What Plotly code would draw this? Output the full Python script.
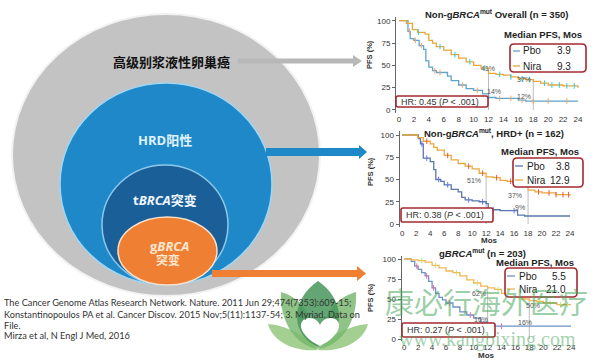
import plotly.graph_objects as go

W, H = 594, 360
def X(p): return p / W
def Y(p): return 1 - p / H

# ---------------- data ----------------
titles = ["Non-g<i>BRCA</i><sup>mut</sup> Overall (n = 350)",
          "Non-g<i>BRCA</i><sup>mut</sup>, HRD+ (n = 162)",
          "g<i>BRCA</i><sup>mut</sup> (n = 203)"]
median_pbo = ["3.9", "3.8", "5.5"]
median_nira = ["9.3", "12.9", "21.0"]
hr_text = ["HR: 0.45 (<i>P</i> < .001)", "HR: 0.38 (<i>P</i> < .001)", "HR: 0.27 (<i>P</i> < .001)"]
x_ticks = list(range(0, 25, 2))
y_ticks = [0, 25, 50, 75, 100]

nira1_t = [0, 1, 1.8, 2.5, 3.5, 4, 4.5, 5, 6, 7, 8, 9, 10, 11, 12, 13, 14, 15, 16, 17, 18, 19, 20, 22, 24]
nira1_s = [100, 97, 90, 87, 85, 78, 75, 71, 67, 62, 58, 54, 50, 47, 41, 40, 39, 37, 35, 34, 32, 30, 28, 27, 25]
pbo1_t = [0, 1.2, 1.5, 2, 2.7, 3.3, 3.6, 4, 4.5, 5, 6.5, 7, 8, 9, 10, 11.2, 12, 13, 16, 17, 24]
pbo1_s = [100, 88, 80, 78, 72, 68, 55, 48, 44, 42, 38, 33, 28, 24, 22, 18, 14, 13, 11, 10, 10]

nira2_t = [0, 2.2, 3, 4, 4.5, 5, 6, 7, 8, 9, 10, 11, 12, 13, 14, 15, 16, 17, 18, 19, 20, 22, 24]
nira2_s = [100, 97, 93, 90, 86, 83, 77, 72, 68, 65, 62, 57, 53, 52, 49, 48, 47, 44, 38, 36, 35, 33, 32]
pbo2_t = [0, 2.3, 2.6, 3, 4, 4.5, 4.8, 5.5, 6, 7, 8, 8.5, 9, 10, 11, 12, 12.3, 14, 16.5, 17.5, 24]
pbo2_s = [100, 96, 90, 74, 70, 61, 50, 48, 44, 39, 36, 30, 27, 26, 25, 23, 16, 15, 10, 9, 9]

nira3_t = [0, 1, 2, 3, 4, 5, 6, 7, 8, 9, 10, 11, 12, 13, 14, 15, 16, 17, 18, 19, 20, 22, 24]
nira3_s = [100, 99, 98, 96, 92, 89, 85, 83, 79, 74, 70, 66, 64, 62, 57, 55, 53, 50, 48, 47, 45, 43, 43]
pbo3_t = [0, 1, 1.5, 2, 2.5, 3, 3.5, 4, 4.5, 5, 5.5, 6, 7, 8, 9, 10, 11, 12, 13, 24]
pbo3_s = [100, 97, 91, 87, 83, 79, 72, 64, 57, 52, 49, 45, 40, 34, 30, 26, 21, 18, 16, 16]

censor_nira = [[2.6, 5.5, 7.5, 9.5, 11.5, 13.5, 15, 16.5, 17.5, 19.5, 20.5, 21.5, 22.5, 23.5],
               [3.5, 6.5, 9.5, 11.5, 13.5, 15.5, 16.5, 19.5, 21, 22, 23, 23.8],
               [2.5, 4.5, 7.5, 10.5, 13.5, 16.5, 19.5, 21, 22.5, 23.5]]
censor_pbo = [[1.4, 2.2, 3, 4.8, 5.5, 8.5, 10.5, 13.5, 15, 16.5, 18, 20, 22.5],
              [2.8, 3.5, 5.2, 6.5, 9.5, 11.5, 13, 16],
              [1.8, 3.2, 4.2, 6.5, 9.5, 12.5, 14]]

pct_labels = [[("41%", 11.9, 47), ("14%", 12.8, 21), ("37%", 16.8, 34), ("12%", 16.8, 15)],
              [("51%", 10.2, 49), ("37%", 16.2, 32), ("9%", 16.8, 18)],
              [("62%", 10.8, 57), ("16%", 11.0, 25), ("50%", 18.6, 42), ("16%", 17.4, 21)]]

curves = [(nira1_t, nira1_s, pbo1_t, pbo1_s),
          (nira2_t, nira2_s, pbo2_t, pbo2_s),
          (nira3_t, nira3_s, pbo3_t, pbo3_s)]

refs = ["The Cancer Genome Atlas Research Network. Nature. 2011 Jun 29;474(7353):609-15;",
        "Konstantinopoulos PA et al. Cancer Discov. 2015 Nov;5(11):1137-54; 3. Myriad. Data on",
        "File.",
        "Mirza et al, N Engl J Med, 2016"]

# ---------------- styles / geometry ----------------
NIRA = ["#e8a63c", "#e9a83e", "#f0b552"]
PBO = ["#5ea5c9", "#5a78aa", "#6f90c4"]
BOXRED = "#a52a30"
FONT = "Liberation Sans"
CJK = "Open Sans, Noto Sans CJK SC"

geom = [(399, 578, 20.7, 110), (402.3, 570, 135, 224), (404.3, 571, 259, 339)]
XR, YR = (-0.4, 24.4), (-3, 104)

def val_at(t, s, x):
    v = s[0]
    for ti, si in zip(t, s):
        if ti <= x:
            v = si
    return v

fig = go.Figure()
layout = dict(width=W, height=H, margin=dict(l=0, r=0, t=0, b=0, pad=0, autoexpand=False),
              paper_bgcolor="white", plot_bgcolor="rgba(0,0,0,0)", showlegend=False)
shapes, annots = [], []

def note(text, px, py, size, color="#222", family=FONT, xanchor="center", angle=0):
    annots.append(dict(text=text, x=X(px), y=Y(py), xref="paper", yref="paper", showarrow=False,
                       xanchor=xanchor, yanchor="middle", textangle=angle,
                       font=dict(size=size, family=family, color=color)))

def curve_path(spec):
    out = ""
    for seg in spec:
        cmd = seg[0]
        nums = seg[1:]
        pts = [f"{X(nums[i]):.5f},{Y(nums[i+1]):.5f}" for i in range(0, len(nums), 2)]
        out += cmd + " " + " ".join(pts) + " "
    return out + "Z"

def rr(x0, y0, x1, y1, r):
    p = [("M", x0 + r, y0), ("L", x1 - r, y0), ("Q", x1, y0, x1, y0 + r), ("L", x1, y1 - r),
         ("Q", x1, y1, x1 - r, y1), ("L", x0 + r, y1), ("Q", x0, y1, x0, y1 - r),
         ("L", x0, y0 + r), ("Q", x0, y0, x0 + r, y0)]
    return curve_path(p)

def poly(pts):
    return "M " + " L ".join(f"{X(a):.5f},{Y(b):.5f}" for a, b in pts) + " Z"

for i, (x0, x24, y100, y0) in enumerate(geom):
    kx = (x24 - x0) / 24
    ky = (y0 - y100) / 100
    dx = [X(x0 + XR[0] * kx), X(x0 + XR[1] * kx)]
    dy = [Y(y0 - YR[0] * ky), Y(y0 - YR[1] * ky)]
    sfx = "" if i == 0 else str(i + 1)
    layout["xaxis" + sfx] = dict(domain=dx, range=list(XR), tickvals=x_ticks, showgrid=False,
                                 zeroline=False, showline=False, ticks="", automargin=False,
                                 tickfont=dict(size=8, family=FONT, color="#333"),
                                 anchor="y" + sfx, fixedrange=True)
    layout["yaxis" + sfx] = dict(domain=dy, range=list(YR), tickvals=y_ticks, showgrid=False,
                                 zeroline=False, showline=True, linecolor="#666", linewidth=1,
                                 ticks="outside", ticklen=3, tickcolor="#666", automargin=False,
                                 tickfont=dict(size=8, family=FONT, color="#333"),
                                 anchor="x" + sfx, fixedrange=True)
    xa, ya = "x" + sfx, "y" + sfx
    nt, ns, pt, ps = curves[i]
    for m in (12, 18):
        fig.add_trace(go.Scatter(x=[m, m], y=[0, val_at(nt, ns, m)], mode="lines",
                                 line=dict(color="#aaaaaa", width=0.8), xaxis=xa, yaxis=ya,
                                 hoverinfo="skip"))
    fig.add_trace(go.Scatter(x=pt, y=ps, mode="lines", line=dict(shape="hv", color=PBO[i], width=1.3),
                             xaxis=xa, yaxis=ya))
    fig.add_trace(go.Scatter(x=nt, y=ns, mode="lines", line=dict(shape="hv", color=NIRA[i], width=1.3),
                             xaxis=xa, yaxis=ya))
    fig.add_trace(go.Scatter(x=censor_pbo[i], y=[val_at(pt, ps, c) for c in censor_pbo[i]], mode="markers",
                             marker=dict(symbol="line-ns-open", size=4, line=dict(color=PBO[i], width=1)),
                             xaxis=xa, yaxis=ya))
    fig.add_trace(go.Scatter(x=censor_nira[i], y=[val_at(nt, ns, c) for c in censor_nira[i]], mode="markers",
                             marker=dict(symbol="line-ns-open", size=4, line=dict(color=NIRA[i], width=1)),
                             xaxis=xa, yaxis=ya))
    for txt, lx, ly in pct_labels[i]:
        annots.append(dict(text=txt, x=lx, y=ly, xref=xa, yref=ya, showarrow=False,
                           xanchor="center", yanchor="middle",
                           font=dict(size=7, family=FONT, color="#555")))

for (tx, ty), t in zip([(496, 14), (494, 133), (482, 253)], titles):
    note("<b>" + t + "</b>", tx, ty, 9.5)
for (lx, ly) in [(369, 55), (370, 172), (370, 298)]:
    note("<b>PFS (%)</b>", lx, ly, 7.5, color="#333", angle=-90)
for (lx, ly) in [(489, 240), (486, 355)]:
    note("<b>Mos</b>", lx, ly, 8, color="#333")

legend_geo = [
    ((543, 34), (510, 44, 586, 72), 51, 66, 513, 520, 521, 573),
    ((540, 151), (513, 158, 583, 187), 166, 180, 515, 523, 525, 572),
    ((535, 262), (505, 268, 577, 297), 276, 289, 507, 515, 517, 568),
]
for i, ((hx, hy), (bx0, by0, bx1, by1), py_, ny_, lx0, lx1, tx, vr) in enumerate(legend_geo):
    note("<b>Median PFS, Mos</b>", hx, hy, 9.5)
    shapes.append(dict(type="path", path=rr(bx0, by0, bx1, by1, 4), xref="paper", yref="paper",
                       line=dict(color=BOXRED, width=1.6), fillcolor="white", layer="above"))
    for yy, col, name, val in [(py_, PBO[i], "Pbo", median_pbo[i]), (ny_, NIRA[i], "Nira", median_nira[i])]:
        shapes.append(dict(type="line", x0=X(lx0), x1=X(lx1), y0=Y(yy), y1=Y(yy), xref="paper", yref="paper",
                           line=dict(color=col, width=1.3), layer="above"))
        note(name, tx, yy, 10, xanchor="left")
        note(val, vr, yy, 10, xanchor="right")

hr_geo = [(396, 96, 488, 107), (401, 208, 493, 222), (402, 323, 495, 337)]
for (x0, y0, x1, y1), t in zip(hr_geo, hr_text):
    shapes.append(dict(type="path", path=rr(x0, y0, x1, y1, 2), xref="paper", yref="paper",
                       line=dict(color=BOXRED, width=1.6), fillcolor="white", layer="above"))
    note(t, x0 + 3, (y0 + y1) / 2, 9, color="#333", xanchor="left")

# ---------------- nested ellipses diagram ----------------
def ell(cx, cy, rx, ry, fill, line, lw):
    return dict(type="circle", xref="paper", yref="paper", x0=X(cx - rx), x1=X(cx + rx),
                y0=Y(cy + ry), y1=Y(cy - ry), fillcolor=fill, line=dict(color=line, width=lw), layer="below")

shapes.append(ell(166, 155, 154, 141, "#c3c3c3", "#f2f2f2", 2))
shapes.append(ell(166, 184, 106, 101, "#1f88c9", "#9fd6f2", 1.5))
shapes.append(ell(165, 225, 63, 60, "#1b5f98", "#8cc8ea", 1.5))
shapes.append(ell(167.5, 251, 49.5, 34, "#ee7f33", "#fbe0c8", 1.5))

shapes.append(dict(type="path", xref="paper", yref="paper", layer="above", line=dict(width=0),
                   fillcolor="#b8b8b8",
                   path=poly([(238, 58.5), (353, 58.5), (353, 55), (362, 61), (353, 67), (353, 63.5), (238, 63.5)])))
shapes.append(dict(type="path", xref="paper", yref="paper", layer="above", line=dict(width=0),
                   fillcolor="#1f88c9",
                   path=poly([(266, 148), (359, 148), (359, 145), (367, 152), (359, 159), (359, 156), (266, 156)])))
shapes.append(dict(type="path", xref="paper", yref="paper", layer="above", line=dict(width=0),
                   fillcolor="#ee7f33",
                   path=poly([(212, 270), (357, 270), (357, 266), (366, 273.5), (357, 281), (357, 277), (212, 277)])))

note("<b>高级别浆液性卵巢癌</b>", 171, 62, 13, color="#111", family=CJK)
note("<b>HRD阳性</b>", 165, 140, 13, color="#dff2ff", family=CJK)
note("<b>t<i>BRCA</i>突变</b>", 165, 200, 13, color="#eef6ff", family=CJK)
note("<b>g<i>BRCA</i></b>", 169, 246, 13, color="#fde6cf", family=CJK)
note("<b>突变</b>", 168, 260, 12, color="#fde6cf", family=CJK)

for line, yy in zip(refs, [302, 314, 325, 335]):
    note(line, 2, yy, 9.2, color="#333", family="Lato", xanchor="left")

lotus = [
    ("rgba(140,196,118,0.80)", [("M", 268, 324), ("C", 274, 345, 300, 352, 318, 350), ("C", 305, 336, 290, 326, 268, 324)]),
    ("rgba(140,196,118,0.80)", [("M", 368, 324), ("C", 362, 345, 336, 352, 318, 350), ("C", 331, 336, 346, 326, 368, 324)]),
    ("rgba(118,182,108,0.82)", [("M", 281, 292), ("C", 279, 320, 295, 346, 318, 349), ("C", 315, 320, 305, 299, 281, 292)]),
    ("rgba(118,182,108,0.82)", [("M", 356, 292), ("C", 358, 320, 342, 346, 318, 349), ("C", 321, 320, 331, 299, 356, 292)]),
    ("rgba(72,150,92,0.85)", [("M", 318, 281), ("C", 346, 300, 346, 335, 318, 347), ("C", 290, 335, 290, 300, 318, 281)]),
    ("white", [("M", 320, 346), ("C", 300, 336, 297, 323, 305, 319), ("C", 312, 316, 318, 320, 320, 325),
               ("C", 322, 320, 328, 316, 335, 319), ("C", 343, 323, 340, 336, 320, 346)]),
]
for col, spec in lotus:
    shapes.append(dict(type="path", xref="paper", yref="paper", layer="above", line=dict(width=0),
                       fillcolor=col, path=curve_path(spec)))

note("康必行海外医疗", 486, 301, 29, color="rgba(70,165,90,0.55)", family="Noto Sans CJK SC")
note("www.kangbixing.com", 487, 339, 20, color="rgba(70,165,90,0.5)", family="Liberation Serif")

layout["shapes"] = shapes
layout["annotations"] = annots
fig.update_layout(**layout)
# hide the modebar and remove the default page margin so the figure fills the window exactly
fig.write_html("out.html", config={"displayModeBar": False, "staticPlot": True},
               post_script="document.body.style.margin='0';")
